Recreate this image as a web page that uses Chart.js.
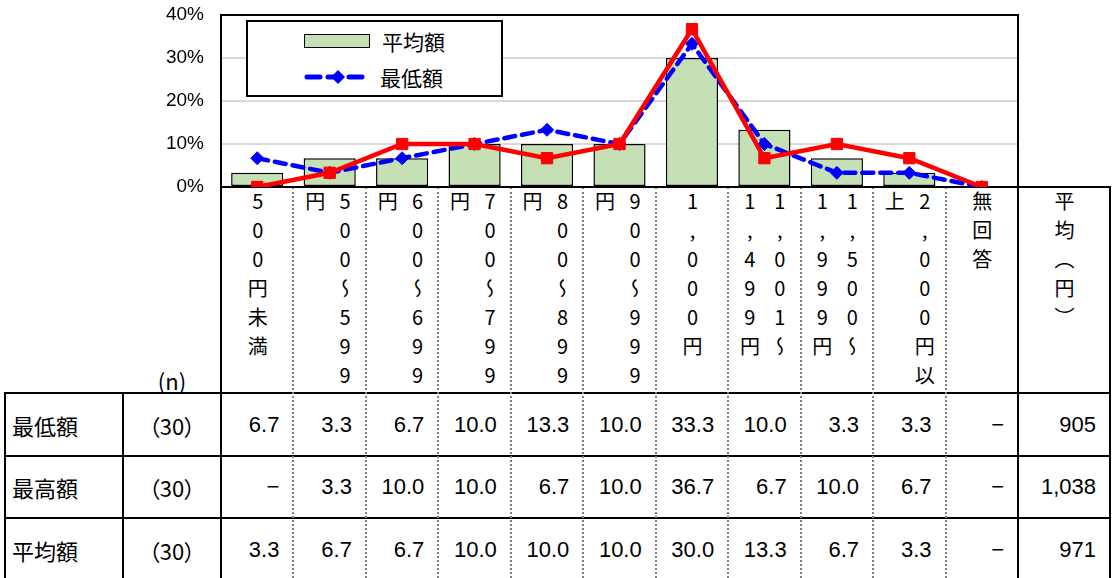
<!DOCTYPE html>
<html lang="ja">
<head>
<meta charset="UTF-8">
<title>最低額・最高額・平均額</title>
<script src="https://cdn.jsdelivr.net/npm/chart.js@4.4.1/dist/chart.umd.min.js"></script>
<style>
    html, body { margin: 0; padding: 0; background: #fff; }
    body {
        width: 1115px; height: 578px; position: relative; overflow: hidden;
        font-family: "Liberation Sans", "Noto Sans CJK JP", sans-serif; color: #000;
    }
    #tabla { position: absolute; left: 0; top: 0; z-index: 1; }
    #grafico { position: absolute; left: 0; top: 0; z-index: 2; }
    #leyenda { z-index: 3; }
    .linea { position: absolute; background: #000; }
    .punteada { position: absolute; width: 0; border-left: 2px dotted #808080; }
    .celda {
        position: absolute; display: flex; align-items: center;
        font-size: 22px; white-space: nowrap;
    }
    .jp { font-family: "Noto Sans CJK JP", sans-serif; font-feature-settings: "palt"; }
    .cabecera { position: absolute; display: flex; justify-content: center; align-items: flex-start; }
    .vertical {
        writing-mode: vertical-rl; text-orientation: upright; white-space: pre;
        font-family: "Noto Sans CJK JP", sans-serif; font-size: 20px;
        line-height: 30px; letter-spacing: 9px;
    }
    #leyenda {
        position: absolute; left: 246px; top: 20px; width: 253px; height: 73px;
        border: 2px solid #000; background: #fff;
        font-family: "Noto Sans CJK JP", sans-serif; font-size: 21px;
    }
    #leyenda .item { position: absolute; left: 56px; height: 30px; display: flex; align-items: center; }
    #leyenda .item span { margin-left: 12px; }
    .muestra-barra { display: inline-block; width: 64px; height: 12px; background: #c5e0b4; border: 1.5px solid #000; margin-left: 0 !important; }
</style>
</head>
<body>
<canvas id="grafico" width="1115" height="199"></canvas>
<div id="tabla"></div>
<div id="leyenda"></div>
<script>
// --- Datos (%, n = 30) ---
const categorias = [
    ['500円未満'],
    ['500～599', '円'],
    ['600～699', '円'],
    ['700～799', '円'],
    ['800～899', '円'],
    ['900～999', '円'],
    ['1,000円'],
    ['1,001～', '1,499円'],
    ['1,500～', '1,999円'],
    ['2,000円以', '上'],
    ['無回答']
];
const etiquetas = categorias.map(c => c.join(''));

const minimo   = [6.7, 3.3, 6.7, 10.0, 13.3, 10.0, 33.3, 10.0, 3.3, 3.3, 0];
const maximo   = [0, 3.3, 10.0, 10.0, 6.7, 10.0, 36.7, 6.7, 10.0, 6.7, 0];
const promedio = [3.3, 6.7, 6.7, 10.0, 10.0, 10.0, 30.0, 13.3, 6.7, 3.3, 0];

const filas = ['最低額', '最高額', '平均額'];
const muestras = [30, 30, 30];
const promedioYen = [905, 1038, 971];
const ticksY = [0, 10, 20, 30, 40];

// 1. Marco del área del gráfico (debajo de las líneas)
const marcoPlugin = {
    id: 'marco',
    beforeDatasetsDraw(chart) {
        const { ctx, chartArea: a } = chart;
        ctx.save();
        ctx.strokeStyle = '#000';
        ctx.lineWidth = 2;
        ctx.strokeRect(a.left, a.top, a.right - a.left, a.bottom - a.top);
        ctx.restore();
    }
};

// 2. Gráfico combinado
const chart = new Chart(document.getElementById('grafico'), {
    data: {
        labels: etiquetas,
        datasets: [
            {
                type: 'line', label: '最高額', data: maximo, order: 1,
                borderColor: '#ff0000', backgroundColor: '#ff0000', borderWidth: 4.5,
                pointStyle: 'rect', pointRadius: 8, pointBorderWidth: 1,
                tension: 0
            },
            {
                type: 'line', label: '最低額', data: minimo, order: 2,
                borderColor: '#0000ff', backgroundColor: '#0000ff', borderWidth: 4.5,
                borderDash: [11, 7], borderCapStyle: 'round',
                pointStyle: 'rectRot', pointRadius: 6.5, pointBorderWidth: 1,
                tension: 0
            },
            {
                type: 'bar', label: '平均額', data: promedio, order: 3,
                backgroundColor: '#c5e0b4', borderColor: '#000', borderWidth: 1.5,
                borderSkipped: false, barPercentage: 0.72, categoryPercentage: 1
            }
        ]
    },
    options: {
        responsive: false,
        animation: false,
        events: [],
        layout: { padding: { left: 0, right: 97, top: 15, bottom: 12 } },
        plugins: { legend: { display: false }, tooltip: { enabled: false } },
        scales: {
            x: { display: false },
            y: {
                min: ticksY[0], max: ticksY[ticksY.length - 1],
                afterBuildTicks: s => { s.ticks = ticksY.map(v => ({ value: v })); },
                afterFit: s => { s.width = 221; },
                grid: { color: '#d9d9d9', lineWidth: 2, drawTicks: true, tickLength: 17, tickColor: 'rgba(0,0,0,0)' },
                border: { display: false },
                ticks: {
                    padding: 0, color: '#000',
                    font: { family: 'Liberation Sans', size: 19 },
                    callback: v => v + '%'
                }
            }
        }
    },
    plugins: [marcoPlugin]
});

// 3. Leyenda (solo 平均額 y 最低額)
const leyenda = document.getElementById('leyenda');
leyenda.innerHTML =
    '<div class="item" style="top:4px"><span class="muestra-barra"></span><span>' + chart.data.datasets[2].label + '</span></div>' +
    '<div class="item" style="top:40px"><svg width="64" height="16">' +
    '<line x1="3" y1="8" x2="61" y2="8" stroke="#0000ff" stroke-width="5" stroke-dasharray="13 8" stroke-linecap="round"/>' +
    '<polygon points="34,1 41,8 34,15 27,8" fill="#0000ff"/></svg><span>' + chart.data.datasets[1].label + '</span></div>';

// 4. Tabla inferior alineada con las categorías del eje
const tabla = document.getElementById('tabla');
const area = chart.chartArea;
const anchoCat = (area.right - area.left) / etiquetas.length;
const bordes = etiquetas.map((_, i) => area.left + i * anchoCat).concat([area.right]);
const xIzq = 5, xN = 123, xFin = 1110;
const yTop = area.bottom, yCab = 393, yFilas = [393, 456, 518], yFondo = 578;

function linea(x, y, w, h) {
    const d = document.createElement('div');
    d.className = 'linea';
    Object.assign(d.style, { left: x + 'px', top: y + 'px', width: w + 'px', height: h + 'px' });
    tabla.appendChild(d);
}
function punteada(x, y1, y2) {
    const d = document.createElement('div');
    d.className = 'punteada';
    Object.assign(d.style, { left: (x - 1) + 'px', top: y1 + 'px', height: (y2 - y1) + 'px' });
    tabla.appendChild(d);
}
function celda(texto, x1, x2, y1, y2, alinear, clase) {
    const d = document.createElement('div');
    d.className = 'celda' + (clase ? ' ' + clase : '');
    d.textContent = texto;
    const pad = alinear === 'right' ? 'padding-right:14px;' : alinear === 'left' ? 'padding-left:7px;' : '';
    d.style.cssText += `left:${x1}px;top:${y1}px;width:${x2 - x1}px;height:${y2 - y1}px;box-sizing:border-box;` + pad +
        'justify-content:' + (alinear === 'right' ? 'flex-end' : alinear === 'left' ? 'flex-start' : 'center') + ';';
    tabla.appendChild(d);
}

// líneas horizontales
linea(area.left, yTop - 1, xFin - area.left + 1, 2);
yFilas.forEach(y => linea(xIzq - 1, y - 1, xFin - xIzq + 2, 2));
// líneas verticales
linea(xIzq - 1, yCab - 1, 2, yFondo - yCab + 1);
linea(xN - 1, yCab - 1, 2, yFondo - yCab + 1);
linea(area.left - 1, yTop - 1, 2, yFondo - yTop + 1);
linea(area.right - 1, yTop - 1, 2, yFondo - yTop + 1);
linea(xFin - 1, yTop - 1, 2, yFondo - yTop + 1);
bordes.slice(1, -1).forEach(x => punteada(x, yTop, yFondo));

// cabeceras verticales
function cabecera(columnas, x1, x2) {
    const c = document.createElement('div');
    c.className = 'cabecera';
    c.style.cssText += `left:${x1}px;top:${yTop + 1}px;width:${x2 - x1}px;height:${yCab - yTop - 2}px;padding-top:3px;box-sizing:border-box;`;
    const s = document.createElement('span');
    s.className = 'vertical';
    s.textContent = columnas.join('\n');
    c.appendChild(s);
    tabla.appendChild(c);
}
categorias.forEach((c, i) => cabecera(c, bordes[i], bordes[i + 1]));
cabecera(['平均（円）'], area.right, xFin);
celda('(n)', xN, area.left, 368, 392, 'center', 'jp');

// filas de datos
const series = [minimo, maximo, promedio];
const fmt = v => v === 0 ? '−' : v.toFixed(1);
filas.forEach((nombre, f) => {
    const y1 = yFilas[f], y2 = yFilas[f + 1] || yFondo + 4;
    celda(nombre, xIzq, xN, y1, y2, 'left', 'jp');
    celda('（' + muestras[f] + '）', xN, area.left, y1, y2, 'center', 'jp');
    series[f].forEach((v, i) => celda(fmt(v), bordes[i], bordes[i + 1], y1, y2, 'right'));
    celda(promedioYen[f].toLocaleString('en-US'), area.right, xFin, y1, y2, 'right');
});
</script>
</body>
</html>
